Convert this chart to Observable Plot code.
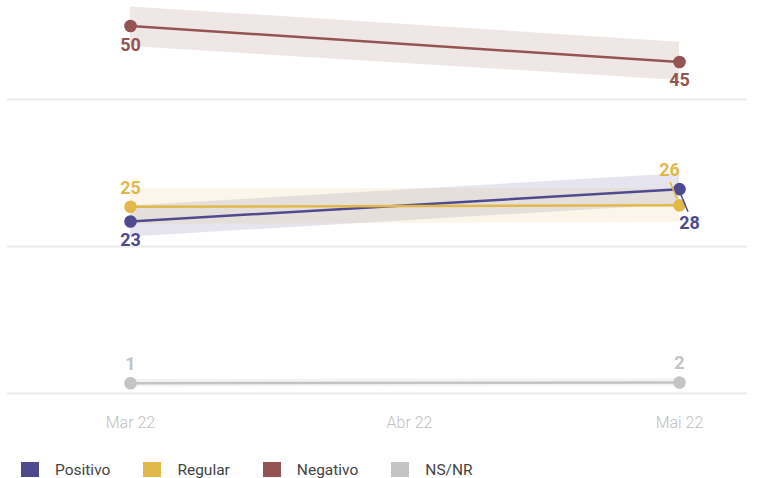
<!DOCTYPE html>
<html>
<head>
<meta charset="utf-8">
<script src="https://cdn.jsdelivr.net/npm/d3@7"></script>
<script src="https://cdn.jsdelivr.net/npm/@observablehq/plot@0.6"></script>
<style>
  body { margin: 0; background: #fff; font-family: Roboto, "Noto Sans", sans-serif; }
  #legend { display: flex; padding: 16px 0 0 21px; height: 17px; }
  .item { display: flex; align-items: center; margin-right: 33px; font-size: 15.5px; color: #444; line-height: 16px; }
  .sw { width: 18px; height: 15px; margin-right: 16px; }
</style>
</head>
<body>
<div id="chart"></div>
<div id="legend"></div>
<script>
const monthDates = ["2022-03-01", "2022-04-01", "2022-05-01"];
const monthLabels = ["Mar 22", "Abr 22", "Mai 22"];
const series = ["Positivo", "Regular", "Negativo", "NS/NR"];
const colors = ["#4f4a8f", "#e2b84b", "#955454", "#c4c4c4"];
// observed months only (Mar 22, Mai 22)
const obsDates = ["2022-03-01", "2022-05-01"];
const positivo = [23.4, 27.8];
const regular  = [25.4, 25.6];
const negativo = [50.0, 45.1];
const nsnr     = [1.4, 1.5];
const positivoLabels = ["23", "28"];
const regularLabels  = ["25", "26"];
const negativoLabels = ["50", "45"];
const nsnrLabels     = ["1", "2"];
const positivoLow = [21.3, 25.7], positivoHigh = [25.5, 29.9];
const regularLow  = [23.0, 23.3], regularHigh  = [27.9, 27.9];
const negativoLow = [47.2, 42.6], negativoHigh = [52.6, 47.8];
const nsnrLow     = [0.9, 1.0],   nsnrHigh     = [1.9, 2.0];
const gridValues = [0, 20, 40];

const vals = [positivo, regular, negativo, nsnr];
const labs = [positivoLabels, regularLabels, negativoLabels, nsnrLabels];
const lows = [positivoLow, regularLow, negativoLow, nsnrLow];
const highs = [positivoHigh, regularHigh, negativoHigh, nsnrHigh];
const bandOpacity = [0.14, 0.12, 0.15, 0.2];
// label placement: [dx, dy] for each point
const place = [
  [[0, 19], [10, 34]],
  [[0, -19], [-10, -35]],
  [[0, 19], [0, 18]],
  [[0, -19], [0, -19]]
];

const ticks = monthDates.map(d => new Date(d));
const tickText = new Map(ticks.map((d, i) => [+d, monthLabels[i]]));

const rows = [];
series.forEach((s, i) => obsDates.forEach((m, j) => rows.push({
  serie: s, date: new Date(m), value: vals[i][j], label: labs[i][j],
  low: lows[i][j], high: highs[i][j], dx: place[i][j][0], dy: place[i][j][1], color: colors[i]
})));

const color = {domain: series, range: colors};
const marks = [
  Plot.ruleY(gridValues, {stroke: "#ececec", strokeWidth: 2}),
];
series.forEach((s, i) => {
  const d = rows.filter(r => r.serie === s);
  marks.push(Plot.areaY(d, {x: "date", y1: "low", y2: "high", fill: "serie", fillOpacity: bandOpacity[i]}));
});
series.forEach((s) => {
  const d = rows.filter(r => r.serie === s);
  marks.push(Plot.line(d, {x: "date", y: "value", stroke: "serie", strokeWidth: 2.5}));
  marks.push(Plot.dot(d, {x: "date", y: "value", fill: "serie", r: 6.3}));
});
rows.forEach(r => {
  marks.push(Plot.text([r], {x: "date", y: "value", text: "label", dx: r.dx, dy: r.dy,
    fill: r.color, fontSize: 18, fontWeight: "bold", fontFamily: "Roboto"}));
});

const plot = Plot.plot({
  width: 761, height: 445,
  marginLeft: 7, marginRight: 14, marginTop: 0, marginBottom: 52,
  style: {fontFamily: "Roboto", background: "#fff"},
  x: {type: "utc", domain: [ticks[0], ticks[2]], range: [130, 679], label: null},
  y: {domain: [0, 40], range: [393, 99], axis: null},
  color,
  marks: [
    ...marks,
    Plot.axisX({ticks, tickFormat: d => tickText.get(+d), tickSize: 0, tickPadding: 23,
      fontSize: 16, fill: "#bfbfbf", fontWeight: 300, label: null})
  ]
});
document.getElementById("chart").append(plot);

// small leader lines for the two offset labels, positioned with Plot's scales
const xs = plot.scale("x"), ys = plot.scale("y");
const svg = d3.select(plot);
const leaders = [
  {i: 1, j: 1, from: [-9, -23], to: [-2, -6]},
  {i: 0, j: 1, from: [2, 6], to: [9, 23]}
];
leaders.forEach(l => {
  const x = xs.apply(new Date(obsDates[l.j])), y = ys.apply(vals[l.i][l.j]);
  svg.append("line")
    .attr("x1", x + l.from[0]).attr("y1", y + l.from[1])
    .attr("x2", x + l.to[0]).attr("y2", y + l.to[1])
    .attr("stroke", colors[l.i]).attr("stroke-width", 1.5);
});

const legend = d3.select("#legend");
series.forEach((s, i) => {
  const it = legend.append("div").attr("class", "item");
  it.append("div").attr("class", "sw").style("background", colors[i]);
  it.append("span").text(s);
});
</script>
</body>
</html>
